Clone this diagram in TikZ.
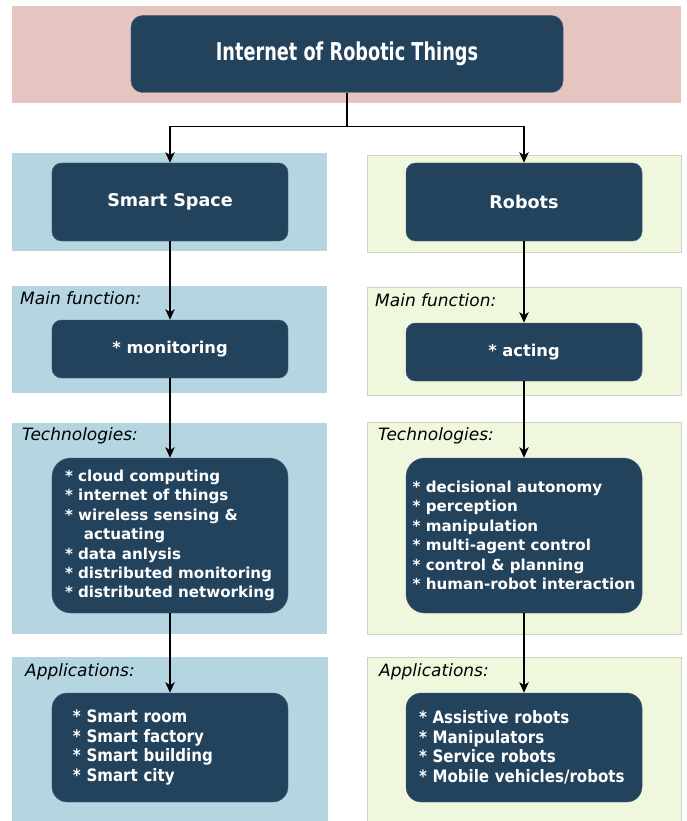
\documentclass[tikz,border=0pt]{standalone}
\usepackage{fontspec}
\setmainfont{DejaVu Sans}
\newfontfamily\narrowfont[FakeStretch=0.72]{DejaVu Sans}
\newfontfamily\appfont[FakeStretch=0.88]{DejaVu Sans}
\usetikzlibrary{arrows.meta}
\definecolor{boxblue}{RGB}{35,67,93}
\definecolor{toppink}{RGB}{230,196,191}
\definecolor{spaceblue}{RGB}{181,213,225}
\definecolor{robotgreen}{RGB}{239,247,221}
\definecolor{robotedge}{RGB}{205,212,196}
\begin{document}
\begin{tikzpicture}[x=0.03cm,y=-0.03cm,
    box/.style={fill=boxblue,draw=boxblue!85!white,rounded corners=8pt,text=white,align=left,
        minimum width=7.08cm,font=\bfseries\fontsize{12.9}{16.6}\selectfont},
    tag/.style={anchor=west,inner sep=0pt,font=\itshape\fontsize{14.5}{17}\selectfont},
    pil/.style={line width=1.3pt,-{Stealth[length=9pt,width=8pt,inset=2.5pt]}},
    spacebg/.style={fill=spaceblue},
    robotbg/.style={fill=robotgreen,draw=robotedge,line width=0.6pt}]
    \useasboundingbox (0,0) rectangle (686,821);

    \fill[toppink] (12,6) rectangle (681,103);

    \fill[spacebg] (12,153) rectangle (327,251);
    \fill[spacebg] (12,286) rectangle (327,393);
    \fill[spacebg] (12,423) rectangle (327,634);
    \fill[spacebg] (12,657) rectangle (328,821);

    \filldraw[robotbg] (367,155) rectangle (681,252);
    \filldraw[robotbg] (367,287) rectangle (681,395);
    \filldraw[robotbg] (367,422) rectangle (681,634);
    \filldraw[robotbg] (367,657) rectangle (681,822);

    \node[box,minimum width=12.96cm,minimum height=2.31cm,rounded corners=10pt,
        font=\narrowfont\bfseries\fontsize{21}{24}\selectfont] (iort) at (347,54) {Internet of Robotic Things};

    \node[box,minimum height=2.34cm,font=\bfseries\fontsize{15}{18}\selectfont] (space) at (170,202) {Smart Space};
    \node[box,minimum height=2.34cm,font=\bfseries\fontsize{15}{18}\selectfont] (robots) at (524,202) {Robots};

    \node[tag] (spacefn) at (20,298) {Main function:};
    \node[tag] (robotfn) at (375,300) {Main function:};
    \node[box,minimum height=1.74cm,font=\bfseries\fontsize{13.9}{16}\selectfont] (monitor) at (170,349) {* monitoring};
    \node[box,minimum height=1.74cm,font=\bfseries\fontsize{13.9}{16}\selectfont] (acting) at (524,352) {* acting};

    \node[tag] (spacetechtag) at (22,436) {Technologies:};
    \node[tag] (robottechtag) at (378,436) {Technologies:};
    \node[box,minimum height=4.65cm,rounded corners=16pt] (spacetech) at (170,535.5)
        {* cloud computing\\{*} internet of things\\{*} wireless sensing \&\\\hspace{1.25em}actuating\\{*} data anlysis\\{*} distributed monitoring\\{*} distributed networking};
    \node[box,minimum height=4.65cm,rounded corners=16pt] (robottech) at (524,535.5)
        {* decisional autonomy\\{*} perception\\{*} manipulation\\{*} multi-agent control\\{*} control \& planning\\{*} human-robot interaction};

    \node[tag] (spaceapptag) at (25,672) {Applications:};
    \node[tag] (robotapptag) at (379,672) {Applications:};
    \node[box,minimum height=3.27cm,rounded corners=13pt,inner xsep=0.63cm,text width=5.82cm,
        font=\appfont\bfseries\fontsize{14.6}{16.7}\selectfont] (spaceapp) at (170,747.5)
        {* Smart room\\{*} Smart factory\\{*} Smart building\\{*} Smart city};
    \node[box,minimum height=3.27cm,rounded corners=13pt,inner xsep=0.39cm,text width=6.3cm,
        font=\appfont\bfseries\fontsize{14.6}{16.7}\selectfont] (robotapp) at (524,747.5)
        {* Assistive robots\\{*} Manipulators\\{*} Service robots\\{*} Mobile vehicles/robots};

    \draw[pil] (iort.south) -- ++(0,34) -| (space.north);
    \draw[pil] (iort.south) -- ++(0,34) -| (robots.north);
    \draw[pil] (space) -- (monitor);
    \draw[pil] (monitor) -- (spacetech);
    \draw[pil] (spacetech) -- (spaceapp);
    \draw[pil] (robots) -- (acting);
    \draw[pil] (acting) -- (robottech);
    \draw[pil] (robottech) -- (robotapp);
\end{tikzpicture}
\end{document}
